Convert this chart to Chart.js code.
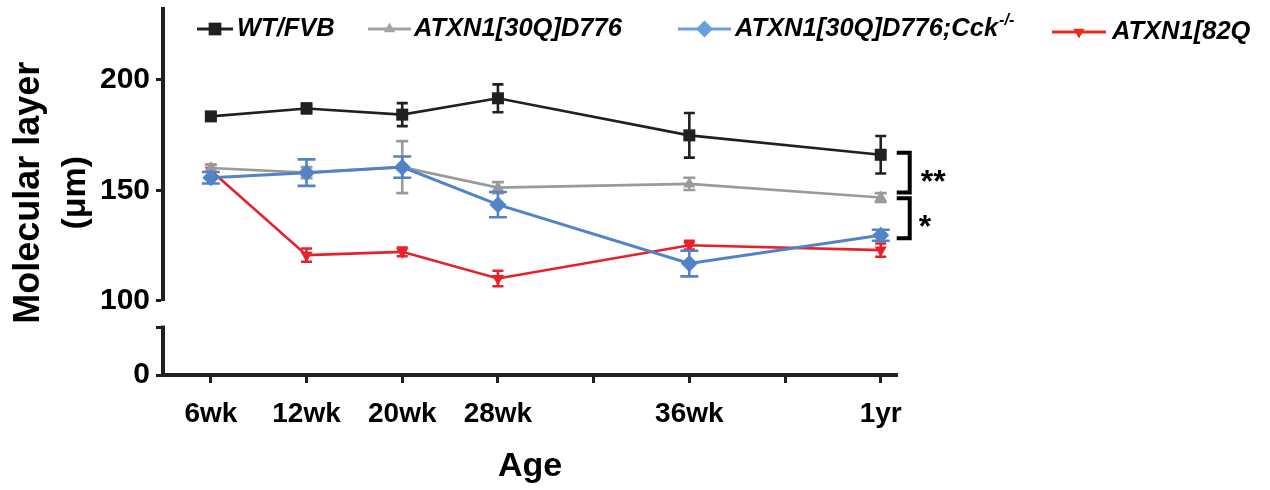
<!DOCTYPE html>
<html><head><meta charset="utf-8">
<script src="https://cdn.jsdelivr.net/npm/chart.js@4.4.1/dist/chart.umd.min.js"></script>
<style>html,body{margin:0;padding:0;background:#fff;}#wrap{width:1270px;height:490px;position:relative;}</style>
</head><body><div id="wrap"><canvas id="c" width="1270" height="490"></canvas></div>
<script>
// ---- data ----
const categories = ['6wk', '12wk', '20wk', '28wk', '36wk', '1yr'];
const xPositions = [0, 1, 2, 3, 5, 7];
const xTickPositions = [0, 1, 2, 3, 4, 5, 6, 7];
const yTicksUpper = [100, 150, 200];
const yTicksLower = [0];
const seriesNames = ['WT/FVB', 'ATXN1[30Q]D776', 'ATXN1[30Q]D776;Cck', 'ATXN1[82Q'];
const seriesSup = ['', '', '-/-', ''];
const wtMean  = [183.5, 187.1, 184.3, 191.7, 174.9, 166.1];
const wtErr   = [1.8, 2.2, 5.2, 6.3, 10.1, 8.5];
const q30Mean = [160.1, 158.0, 160.5, 151.2, 152.9, 146.7];
const q30Err  = [1.5, 2.5, 11.8, 2.5, 2.8, 2.0];
const cckMean = [155.7, 158.0, 160.5, 143.5, 116.8, 129.6];
const cckErr  = [2.6, 6.0, 4.8, 5.7, 5.8, 2.5];
const q82Mean = [159.0, 120.6, 122.1, 110.0, 125.1, 122.9];
const q82Err  = [2.5, 3.0, 2.0, 3.5, 2.0, 3.0];
const sigTop    = [167.0, 146.4];
const sigBottom = [149.0, 128.3];
const sigLabels = ['**', '*'];

// ---- styles ----
const FONT = "'Liberation Sans', Arial, Helvetica, sans-serif";
const AX = '#231f20';
const colors = ['#231f20', '#9a9a9a', '#5283c6', '#e8202a'];
const legendColors = ['#231f20', '#a3a3a3', '#67a0e0', '#f2291e'];
const pointStyles = ['rect', 'triangle', 'rectRot', 'triangle'];
const pointRot = [0, 0, 0, 180];
const pointRad = [8.5, 7, 8.5, 7];
const lineW = [2.6, 2.6, 3, 2.6];
const capHalf = [5.5, 6, 9, 5.5];
const errArrays = [wtErr, q30Err, cckErr, q82Err];
const means = [wtMean, q30Mean, cckMean, q82Mean];
const drawOrder = [3, 1, 0, 2];
const BREAK_VAL = 10;

const toPts = m => m.map((v, i) => ({x: xPositions[i], y: v}));

const datasets = means.map((m, k) => ({
  label: seriesNames[k],
  data: toPts(m),
  borderColor: colors[k],
  backgroundColor: colors[k],
  pointBackgroundColor: colors[k],
  pointBorderColor: colors[k],
  pointBorderWidth: 0,
  pointStyle: pointStyles[k],
  pointRotation: pointRot[k],
  pointRadius: pointRad[k],
  borderWidth: lineW[k],
  tension: 0,
  order: drawOrder[k],
  yAxisID: 'y',
  clip: false
}));

const errorBars = {
  id: 'errorBars',
  afterDatasetDraw(chart, args) {
    const k = args.index;
    const ys = chart.scales.y;
    const ctx = chart.ctx;
    ctx.save();
    ctx.strokeStyle = colors[k];
    ctx.lineWidth = 2.6;
    args.meta.data.forEach((pt, i) => {
      const v = means[k][i], e = errArrays[k][i];
      const y1 = ys.getPixelForValue(v + e), y2 = ys.getPixelForValue(v - e);
      const x = pt.x, c = capHalf[k];
      ctx.beginPath();
      ctx.moveTo(x, y1); ctx.lineTo(x, y2);
      ctx.moveTo(x - c, y1); ctx.lineTo(x + c, y1);
      ctx.moveTo(x - c, y2); ctx.lineTo(x + c, y2);
      ctx.stroke();
    });
    ctx.restore();
  }
};

function drawMarker(ctx, k, x, y, r) {
  Chart.helpers.drawPoint(ctx, {pointStyle: pointStyles[k], rotation: pointRot[k], radius: r, borderWidth: 0}, x, y);
}

const extras = {
  id: 'extras',
  afterDraw(chart) {
    const ctx = chart.ctx;
    const ys = chart.scales.y, yl = chart.scales.yLow, xs = chart.scales.x;
    ctx.save();
    // lower y-axis segment (broken axis)
    ctx.strokeStyle = AX; ctx.lineWidth = 4;
    ctx.beginPath();
    ctx.moveTo(xs.left, yl.getPixelForValue(0) + 2);
    ctx.lineTo(xs.left, yl.getPixelForValue(BREAK_VAL) - 1.5);
    ctx.stroke();

    // y title
    ctx.fillStyle = '#000';
    ctx.textAlign = 'center'; ctx.textBaseline = 'middle';
    const yc = (Math.min(ys.top, yl.top) + Math.max(ys.bottom, yl.bottom)) / 2 + 1;
    [['Molecular layer', 29, 36], ['(\u03bcm)', 76, 34]].forEach(([t, x, fs]) => {
      ctx.font = 'bold ' + fs + 'px ' + FONT;
      ctx.save(); ctx.translate(x, yc); ctx.rotate(-Math.PI / 2); ctx.fillText(t, 0, 0); ctx.restore();
    });

    // significance brackets
    const bx0 = xs.getPixelForValue(7) + 16, bx1 = bx0 + 13;
    ctx.lineWidth = 4; ctx.strokeStyle = '#000'; ctx.lineJoin = 'miter';
    sigTop.forEach((t, i) => {
      const yt = ys.getPixelForValue(t), yb = ys.getPixelForValue(sigBottom[i]);
      ctx.beginPath();
      ctx.moveTo(bx0, yt); ctx.lineTo(bx1, yt); ctx.lineTo(bx1, yb); ctx.lineTo(bx0, yb);
      ctx.stroke();
      ctx.font = 'bold 32px ' + FONT;
      ctx.textAlign = 'left'; ctx.textBaseline = 'alphabetic';
      ctx.fillText(sigLabels[i], bx1 + (i === 0 ? 11 : 9), (yt + yb) / 2 + 19);
    });

    // legend
    const items = [
      {x0: 197, x1: 233, tx: 237, y: 29},
      {x0: 368, x1: 411, tx: 414, y: 29},
      {x0: 678, x1: 731, tx: 735, y: 29},
      {x0: 1052, x1: 1106, tx: 1112, y: 32}
    ];
    const legR = [9, 6.5, 8.5, 6.5];
    items.forEach((it, k) => {
      ctx.strokeStyle = legendColors[k]; ctx.fillStyle = legendColors[k];
      ctx.lineWidth = 3;
      ctx.beginPath(); ctx.moveTo(it.x0, it.y); ctx.lineTo(it.x1, it.y); ctx.stroke();
      drawMarker(ctx, k, (it.x0 + it.x1) / 2, it.y, legR[k]);
      ctx.fillStyle = '#000';
      ctx.font = 'italic bold 25.5px ' + FONT;
      ctx.textAlign = 'left'; ctx.textBaseline = 'middle';
      ctx.fillText(seriesNames[k], it.tx, it.y);
      if (seriesSup[k]) {
        const w = ctx.measureText(seriesNames[k]).width;
        ctx.font = 'italic bold 16px ' + FONT;
        ctx.fillText(seriesSup[k], it.tx + w + 1, it.y - 8);
      }
    });
    ctx.restore();
  }
};

const noPad = s => { s.width = 163; s.paddingTop = 0; s.paddingBottom = 0; };

new Chart(document.getElementById('c'), {
  type: 'line',
  data: {datasets},
  plugins: [errorBars, extras],
  options: {
    responsive: false,
    animation: false,
    devicePixelRatio: 1,
    layout: {padding: {left: 0, top: 8, right: 373, bottom: 0}},
    plugins: {legend: {display: false}, tooltip: {enabled: false}},
    scales: {
      x: {
        type: 'linear', min: -0.5, max: 7.17,
        afterBuildTicks: s => { s.ticks = xTickPositions.map(v => ({value: v})); },
        afterFit: s => { s.height = 115; },
        ticks: {
          callback: v => { const i = xPositions.indexOf(v); return i >= 0 ? categories[i] : ''; },
          font: {family: FONT, size: 28, weight: 'bold'}, color: '#000', padding: 14,
          maxRotation: 0, autoSkip: false
        },
        grid: {drawOnChartArea: false, drawTicks: true, tickLength: 8, tickWidth: 3, tickColor: AX},
        border: {display: true, color: AX, width: 4},
        title: {display: true, text: 'Age', font: {family: FONT, size: 34, weight: 'bold'}, color: '#000', padding: {top: 0, bottom: 3}}
      },
      yLow: {
        type: 'linear', position: 'left', stack: 'ys', stackWeight: 74.5, min: 0, max: 15.52,
        afterBuildTicks: s => { s.ticks = yTicksLower.concat([BREAK_VAL]).map(v => ({value: v})); },
        afterFit: noPad,
        ticks: {callback: v => (yTicksLower.includes(v) ? String(v) : ''), font: {family: FONT, size: 30, weight: 'bold'}, color: '#000', padding: 6},
        grid: {drawOnChartArea: false, drawTicks: true, tickLength: 7, tickWidth: 3, tickColor: AX},
        border: {display: false}
      },
      y: {
        type: 'linear', position: 'left', stack: 'ys', stackWeight: 292.5, min: 100, max: 232.4,
        afterBuildTicks: s => { s.ticks = yTicksUpper.map(v => ({value: v})); },
        afterFit: noPad,
        ticks: {font: {family: FONT, size: 30, weight: 'bold'}, color: '#000', padding: 6},
        grid: {drawOnChartArea: false, drawTicks: true, tickLength: 7, tickWidth: 3, tickColor: AX},
        border: {display: true, color: AX, width: 4}
      }
    }
  }
});
</script></body></html>
